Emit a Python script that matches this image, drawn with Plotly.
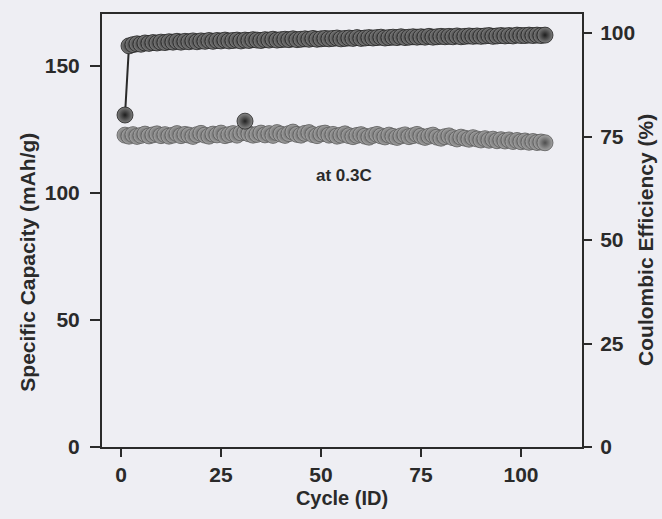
import plotly.graph_objects as go

# Cycling data
cycles = list(range(1, 107))

capacity = [
    122.8, 122.4, 123.0, 122.3, 122.7, 123.2, 122.5, 122.9, 123.3, 122.6,
    123.0, 122.4, 122.8, 123.4, 122.6, 123.1, 122.8, 122.3, 123.0, 123.5,
    122.8, 122.4, 123.2, 122.9, 123.6, 122.6, 123.0, 123.4, 122.8, 123.7,
    123.9, 123.3, 122.8, 123.1, 123.6, 122.9, 123.4, 122.7, 123.8, 123.2,
    122.7, 123.4, 124.0, 123.1, 122.8, 123.5, 123.8, 123.0, 122.6, 123.3,
    123.6, 122.8, 123.1, 122.4, 122.8, 123.3, 122.6, 122.2, 122.7, 123.0,
    122.4, 122.0, 122.7, 123.1, 122.5, 122.1, 122.8, 122.3, 121.9, 122.5,
    122.9, 122.2, 122.6, 123.1, 122.4, 121.9, 122.4, 122.8, 122.0, 121.6,
    122.2, 122.5, 121.8, 121.3, 122.0, 121.6, 121.2, 121.8, 121.3, 120.9,
    121.4, 120.8, 121.2, 120.6, 121.0, 120.5, 120.9, 120.3, 120.7, 120.2,
    120.5, 120.0, 120.3, 119.9, 120.1, 119.8,
]

efficiency = [
    80.2, 96.9, 97.2, 97.4, 97.3, 97.6, 97.5, 97.7, 97.6, 97.8,
    97.7, 97.9, 97.8, 98.0, 97.8, 98.0, 97.9, 98.1, 97.9, 98.1,
    98.0, 98.2, 98.0, 98.2, 98.1, 98.3, 98.1, 98.2, 98.3, 98.1,
    98.3, 98.2, 98.4, 98.3, 98.2, 98.4, 98.3, 98.5, 98.3, 98.4,
    98.5, 98.4, 98.6, 98.4, 98.5, 98.6, 98.5, 98.7, 98.5, 98.6,
    98.7, 98.6, 98.7, 98.8, 98.6, 98.7, 98.8, 98.7, 98.9, 98.7,
    98.8, 98.9, 98.8, 98.9, 99.0, 98.8, 98.9, 99.0, 98.9, 99.1,
    98.9, 99.0, 99.1, 99.0, 99.1, 99.0, 99.2, 99.0, 99.1, 99.2,
    99.1, 99.2, 99.1, 99.3, 99.1, 99.2, 99.3, 99.2, 99.3, 99.2,
    99.3, 99.4, 99.2, 99.3, 99.4, 99.3, 99.4, 99.3, 99.5, 99.4,
    99.4, 99.5, 99.4, 99.5, 99.4, 99.5,
]

# Isolated capacity reading
stray_cycle = [31]
stray_capacity = [128.3]

x_ticks = [0, 25, 50, 75, 100]
cap_ticks = [0, 50, 100, 150]
eff_ticks = [0, 25, 50, 75, 100]

FONT = "Liberation Sans, Arial, sans-serif"
INK = "#2a2a2a"

fig = go.Figure()

fig.add_trace(go.Scatter(
    x=cycles, y=capacity, mode="markers", yaxis="y", name="Capacity",
    marker=dict(size=16, color="#a4a4a4",
                gradient=dict(type="radial", color="#4e4e4e"),
                line=dict(width=0.8, color="#5a5a5a")),
))

fig.add_trace(go.Scatter(
    x=stray_cycle, y=stray_capacity, mode="markers", yaxis="y", name="Capacity (stray)",
    marker=dict(size=16, color="#8a8a8a",
                gradient=dict(type="radial", color="#222222"),
                line=dict(width=0.8, color="#222222")),
))

fig.add_trace(go.Scatter(
    x=cycles, y=efficiency, mode="lines+markers", yaxis="y2", name="Efficiency",
    line=dict(color=INK, width=2),
    marker=dict(size=16, color="#7e7e7e",
                gradient=dict(type="radial", color="#1e1e1e"),
                line=dict(width=0.8, color="#222222")),
))

fig.add_annotation(
    x=55.75, y=107, xref="x", yref="y", text="at 0.3C", showarrow=False,
    font=dict(family=FONT, size=17, color=INK, weight="bold"),
)

# Vertical axis titles, placed beside each axis
fig.add_annotation(
    x=-0.155, y=0.427, xref="paper", yref="paper", textangle=-90,
    text="Specific Capacity (mAh/g)", showarrow=False,
    xanchor="center", yanchor="middle",
    font=dict(family=FONT, size=21, color=INK, weight="bold"),
)
fig.add_annotation(
    x=1.131, y=0.478, xref="paper", yref="paper", textangle=-90,
    text="Coulombic Efficiency (%)", showarrow=False,
    xanchor="center", yanchor="middle",
    font=dict(family=FONT, size=21, color=INK, weight="bold"),
)

axis_font = dict(family=FONT, size=21, color=INK, weight="bold")

fig.update_layout(
    width=662, height=519,
    margin=dict(l=102, r=80, t=14, b=72, autoexpand=False),
    paper_bgcolor="#eeeef3",
    plot_bgcolor="#eeeef3",
    showlegend=False,
    xaxis=dict(
        range=[-4.75, 115.25], tickvals=x_ticks, ticks="outside", ticklen=8,
        tickwidth=2, tickcolor=INK, showline=True, linewidth=2, linecolor=INK,
        mirror=True, showgrid=False, zeroline=False, tickfont=axis_font,
        automargin=False,
        title=dict(text="Cycle (ID)", font=dict(family=FONT, size=20, color=INK, weight="bold"),
                   standoff=6),
    ),
    yaxis=dict(
        range=[0, 170.5], tickvals=cap_ticks, ticks="outside", ticklen=10,
        tickwidth=2, tickcolor=INK, showline=True, linewidth=2, linecolor=INK,
        showgrid=False, zeroline=False, tickfont=axis_font, ticklabelstandoff=6,
        automargin=False,
    ),
    yaxis2=dict(
        range=[0, 104.6], tickvals=eff_ticks, ticks="outside", ticklen=8,
        tickwidth=2, tickcolor=INK, showline=True, linewidth=2, linecolor=INK,
        overlaying="y", side="right", showgrid=False, zeroline=False,
        tickfont=axis_font, ticklabelstandoff=4, automargin=False,
    ),
)

fig.write_html("out.html")
